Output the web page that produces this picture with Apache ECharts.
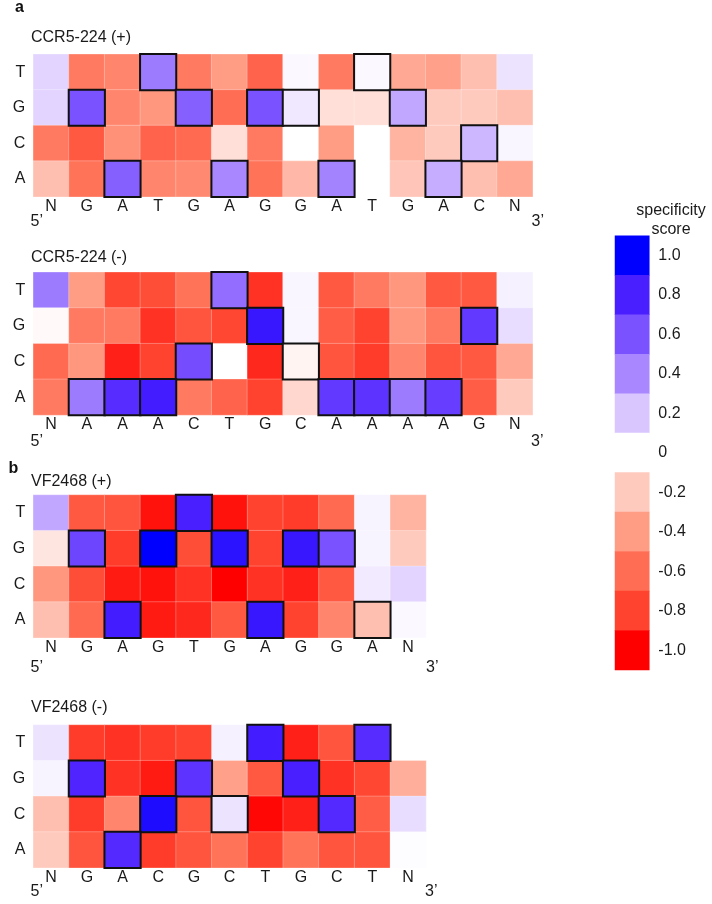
<!DOCTYPE html>
<html>
<head>
<meta charset="utf-8">
<script src="https://cdn.jsdelivr.net/npm/echarts@6/dist/echarts.min.js"></script>
<style>
html,body{margin:0;padding:0;background:#fff;}
#chart{width:712px;height:904px;}
</style>
</head>
<body>
<div id="chart"></div>
<script>
// ---- data ----
const rowLabels = ['T', 'G', 'C', 'A'];

const ccrPlusSeq = ['N','G','A','T','G','A','G','G','A','T','G','A','C','N'];
const ccrPlusT = [0.15, -0.55, -0.5, 0.45, -0.55, -0.4, -0.65, 0.02, -0.55, 0.02, -0.35, -0.38, -0.25, 0.1];
const ccrPlusG = [0.15, 0.6, -0.5, -0.42, 0.55, -0.6, 0.6, 0.08, -0.12, -0.12, 0.3, -0.2, -0.2, -0.25];
const ccrPlusC = [-0.55, -0.7, -0.45, -0.65, -0.62, -0.12, -0.55, 0, -0.4, 0, -0.3, -0.2, 0.25, 0.03];
const ccrPlusA = [-0.25, -0.58, 0.55, -0.5, -0.48, 0.4, -0.58, -0.28, 0.42, 0, -0.22, 0.28, -0.25, -0.35];

const ccrMinusSeq = ['N','A','A','A','C','T','G','C','A','A','A','A','G','N'];
const ccrMinusT = [0.45, -0.4, -0.78, -0.75, -0.58, 0.5, -0.85, 0.03, -0.7, -0.55, -0.42, -0.7, -0.7, 0.05];
const ccrMinusG = [-0.02, -0.55, -0.55, -0.85, -0.72, -0.78, 0.85, 0.03, -0.68, -0.8, -0.42, -0.55, 0.7, 0.12];
const ccrMinusC = [-0.62, -0.42, -0.9, -0.8, 0.62, 0, -0.88, -0.04, -0.72, -0.82, -0.5, -0.72, -0.7, -0.35];
const ccrMinusA = [-0.55, 0.45, 0.75, 0.82, -0.55, -0.65, -0.8, -0.15, 0.7, 0.72, 0.45, 0.68, -0.68, -0.2];

const vfPlusSeq = ['N','G','A','G','T','G','A','G','G','A','N'];
const vfPlusT = [0.3, -0.7, -0.72, -0.95, 0.8, -0.95, -0.8, -0.82, -0.62, 0.04, -0.3];
const vfPlusG = [-0.1, 0.65, -0.82, 1.0, -0.75, 0.88, -0.8, 0.85, 0.6, 0.04, -0.2];
const vfPlusC = [-0.42, -0.75, -0.92, -0.95, -0.85, -1.0, -0.85, -0.9, -0.7, 0.07, 0.15];
const vfPlusA = [-0.25, -0.62, 0.82, -0.92, -0.88, -0.7, 0.85, -0.8, -0.5, -0.25, 0.02];

const vfMinusSeq = ['N','G','A','C','G','C','T','G','C','T','N'];
const vfMinusT = [0.1, -0.82, -0.85, -0.82, -0.8, 0.05, 0.82, -0.9, -0.72, 0.75, 0];
const vfMinusG = [0.04, 0.78, -0.85, -0.92, 0.72, -0.38, -0.7, 0.8, -0.85, -0.78, -0.32];
const vfMinusC = [-0.25, -0.82, -0.5, 0.92, -0.72, 0.1, -0.98, -0.9, 0.76, -0.68, 0.12];
const vfMinusA = [-0.2, -0.72, 0.76, -0.82, -0.72, -0.58, -0.8, -0.58, -0.72, -0.72, 0.01];

const scaleLabels = ['1.0','0.8','0.6','0.4','0.2','0','-0.2','-0.4','-0.6','-0.8','-1.0'];
const scaleColors = ['#ff0000','#ff432e','#ff6e54','#ff9c84','#ffcabe','#ffffff','#d9c6ff','#a988ff','#7a52ff','#4a1fff','#0000ff'];

// ---- build ----
const panels = [
  { title: 'CCR5-224 (+)', seq: ccrPlusSeq, vals: [ccrPlusT, ccrPlusG, ccrPlusC, ccrPlusA],
    grid: { left: 33.3, top: 54.3, width: 499.4, height: 142.4 }, titleY: 38, primeY: 222, threeX: 531.5 },
  { title: 'CCR5-224 (-)', seq: ccrMinusSeq, vals: [ccrMinusT, ccrMinusG, ccrMinusC, ccrMinusA],
    grid: { left: 33.3, top: 272.3, width: 499.4, height: 142.7 }, titleY: 257.7, primeY: 441.5, threeX: 531 },
  { title: 'VF2468 (+)', seq: vfPlusSeq, vals: [vfPlusT, vfPlusG, vfPlusC, vfPlusA],
    grid: { left: 33.3, top: 495, width: 392.7, height: 142.7 }, titleY: 482, primeY: 667.5, threeX: 426 },
  { title: 'VF2468 (-)', seq: vfMinusSeq, vals: [vfMinusT, vfMinusG, vfMinusC, vfMinusA],
    grid: { left: 33.3, top: 725, width: 392.7, height: 142.7 }, titleY: 707.7, primeY: 891.5, threeX: 425 }
];

const FONT = '"Liberation Sans", Arial, sans-serif';
const grids = [], xAxes = [], yAxes = [], series = [], graphics = [];

panels.forEach((p, i) => {
  grids.push(Object.assign({ containLabel: false }, p.grid));
  xAxes.push({
    type: 'category', gridIndex: i, data: p.seq, position: 'bottom',
    axisLine: { show: false }, axisTick: { show: false }, splitLine: { show: false },
    axisLabel: { color: '#1a1a1a', fontSize: 16, fontFamily: FONT, margin: 2 }
  });
  yAxes.push({
    type: 'category', gridIndex: i, data: rowLabels, inverse: true,
    axisLine: { show: false }, axisTick: { show: false }, splitLine: { show: false },
    axisLabel: { color: '#1a1a1a', fontSize: 16, fontFamily: FONT, margin: 8 }
  });
  const normal = [], boxed = [];
  p.vals.forEach((rowArr, r) => {
    rowArr.forEach((v, c) => {
      if (p.seq[c] === rowLabels[r]) boxed.push([c, r, v]);
      else normal.push([c, r, v]);
    });
  });
  series.push({
    type: 'heatmap', xAxisIndex: i, yAxisIndex: i, data: normal, z: 2,
    itemStyle: { borderColor: 'rgba(255,255,255,0.45)', borderWidth: 0.6 },
    emphasis: { disabled: true }
  });
  series.push({
    type: 'heatmap', xAxisIndex: i, yAxisIndex: i, data: boxed, z: 3,
    itemStyle: { borderColor: '#111', borderWidth: 2 },
    emphasis: { disabled: true }
  });
  graphics.push({ type: 'text', style: { text: p.title, x: 31, y: p.titleY, font: '16px ' + FONT, fill: '#1a1a1a', textVerticalAlign: 'middle' } });
  graphics.push({ type: 'text', style: { text: '5’', x: 30.5, y: p.primeY, font: '16px ' + FONT, fill: '#1a1a1a', textVerticalAlign: 'middle' } });
  graphics.push({ type: 'text', style: { text: '3’', x: p.threeX, y: p.primeY, font: '16px ' + FONT, fill: '#1a1a1a', textVerticalAlign: 'middle' } });
});

// colour scale bar
const cbIndex = panels.length;
grids.push({ left: 615, top: 235.7, width: 34.3, height: 434.3 });
xAxes.push({ type: 'category', gridIndex: cbIndex, data: [''], show: false });
yAxes.push({
  type: 'category', gridIndex: cbIndex, data: scaleLabels, inverse: true, position: 'right',
  axisLine: { show: false }, axisTick: { show: false }, splitLine: { show: false },
  axisLabel: { color: '#1a1a1a', fontSize: 16, fontFamily: FONT, margin: 9 }
});
series.push({
  type: 'heatmap', xAxisIndex: cbIndex, yAxisIndex: cbIndex,
  data: scaleLabels.map((l, k) => [0, k, parseFloat(l)]),
  emphasis: { disabled: true }
});

graphics.push({ type: 'text', style: { text: 'a', x: 15, y: 8, font: 'bold 16px ' + FONT, fill: '#111', textVerticalAlign: 'middle' } });
graphics.push({ type: 'text', style: { text: 'b', x: 8.5, y: 469, font: 'bold 16px ' + FONT, fill: '#111', textVerticalAlign: 'middle' } });
graphics.push({ type: 'text', style: { text: 'specificity', x: 671, y: 211, font: '16px ' + FONT, fill: '#1a1a1a', textAlign: 'center', textVerticalAlign: 'middle' } });
graphics.push({ type: 'text', style: { text: 'score', x: 671, y: 230, font: '16px ' + FONT, fill: '#1a1a1a', textAlign: 'center', textVerticalAlign: 'middle' } });

const chart = echarts.init(document.getElementById('chart'), null, { renderer: 'canvas' });
chart.setOption({
  backgroundColor: '#ffffff',
  animation: false,
  grid: grids,
  xAxis: xAxes,
  yAxis: yAxes,
  visualMap: {
    type: 'continuous', show: false, min: -1, max: 1, dimension: 2,
    seriesIndex: series.map((s, k) => k),
    inRange: { color: scaleColors }
  },
  series: series,
  graphic: graphics
});
</script>
</body>
</html>
